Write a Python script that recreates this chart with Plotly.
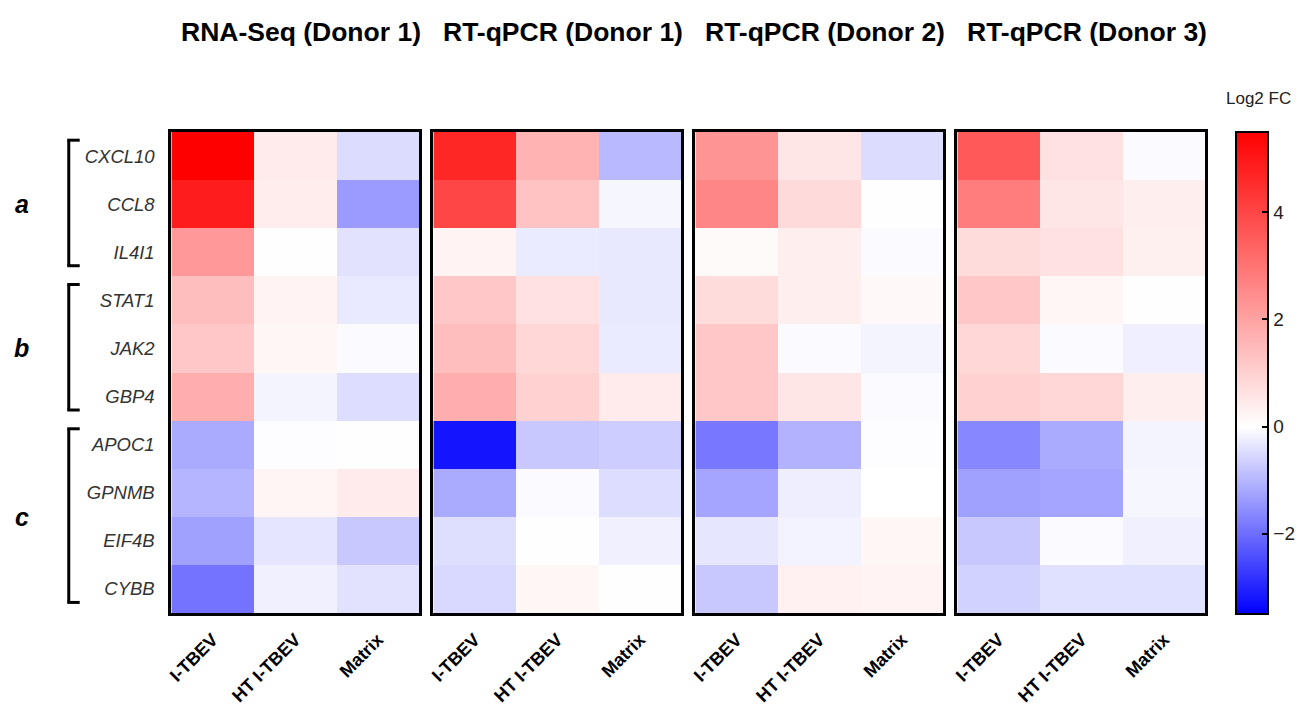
import plotly.graph_objects as go

W, H = 1309, 709

genes = ["CXCL10", "CCL8", "IL4I1", "STAT1", "JAK2", "GBP4", "APOC1", "GPNMB", "EIF4B", "CYBB"]
conditions = ["I-TBEV", "HT I-TBEV", "Matrix"]
panel_titles = ["RNA-Seq (Donor 1)", "RT-qPCR (Donor 1)", "RT-qPCR (Donor 2)", "RT-qPCR (Donor 3)"]
groups = ["a", "b", "c"]
group_rows = [(0, 2), (3, 5), (6, 9)]

rnaseq_d1 = [
    [5.50, 0.43, -0.48],
    [4.90, 0.40, -1.37],
    [2.20, 0.02, -0.40],
    [1.40, 0.26, -0.30],
    [1.20, 0.20, -0.05],
    [1.75, -0.15, -0.47],
    [-1.17, -0.03, 0.02],
    [-1.03, 0.22, 0.43],
    [-1.30, -0.36, -0.75],
    [-1.92, -0.20, -0.40],
]
qpcr_d1 = [
    [4.67, 1.63, -0.96],
    [4.00, 1.30, -0.12],
    [0.25, -0.27, -0.31],
    [1.20, 0.65, -0.31],
    [1.40, 0.87, -0.27],
    [1.74, 0.98, 0.43],
    [-3.22, -0.75, -0.69],
    [-1.17, -0.05, -0.47],
    [-0.45, 0.02, -0.20],
    [-0.52, 0.20, 0.02],
]
qpcr_d2 = [
    [2.30, 0.54, -0.48],
    [2.60, 0.80, 0.02],
    [0.10, 0.37, -0.05],
    [0.76, 0.37, 0.15],
    [1.20, -0.05, -0.15],
    [1.20, 0.54, -0.05],
    [-1.85, -1.06, -0.03],
    [-1.24, -0.23, 0.00],
    [-0.34, -0.17, 0.20],
    [-0.75, 0.30, 0.25],
]
qpcr_d3 = [
    [3.58, 0.65, -0.05],
    [2.80, 0.54, 0.37],
    [0.76, 0.65, 0.33],
    [1.20, 0.20, 0.02],
    [0.87, -0.05, -0.22],
    [0.98, 0.87, 0.37],
    [-1.65, -1.17, -0.15],
    [-1.30, -1.24, -0.12],
    [-0.75, -0.05, -0.20],
    [-0.62, -0.42, -0.42],
]
panels = [rnaseq_d1, qpcr_d1, qpcr_d2, qpcr_d3]

zmin, zmax = -3.5, 5.5
cbar_ticks = [-2, 0, 2, 4]

# layout geometry (pixels)
panel_left = [167, 430, 693, 956]
panel_w = 249
panel_top, panel_bot = 132, 613
cb_left, cb_w, cb_top, cb_bot = 1236, 32, 132, 614

def px_x(p):
    return p / W

def px_y(p):
    return 1 - p / H

mid = (0 - zmin) / (zmax - zmin)
colorscale = [[0, "rgb(0,0,255)"], [mid, "rgb(255,255,255)"], [1, "rgb(255,0,0)"]]

fig = go.Figure()
for i, z in enumerate(panels):
    sfx = "" if i == 0 else str(i + 1)
    fig.add_trace(go.Heatmap(
        z=z, x=conditions, y=genes,
        coloraxis="coloraxis",
        xaxis="x" + sfx, yaxis="y" + sfx,
        xgap=0, ygap=0,
    ))

axis_line = dict(showline=True, linewidth=3, linecolor="black", mirror=True,
                 showgrid=False, zeroline=False)
layout = dict(
    width=W, height=H,
    margin=dict(l=0, r=0, t=0, b=0),
    paper_bgcolor="white", plot_bgcolor="white",
    font=dict(family="Liberation Sans, Arial, sans-serif", color="#222"),
    showlegend=False,
)
for i in range(4):
    sfx = "" if i == 0 else str(i + 1)
    layout["xaxis" + sfx] = dict(
        domain=[px_x(panel_left[i]), px_x(panel_left[i] + panel_w)],
        anchor="y" + sfx, range=[-0.5, 2.5],
        tickangle=-45, ticks="", ticklabelstandoff=6,
        tickfont=dict(size=18, weight="bold", color="black"),
        **axis_line,
    )
    layout["yaxis" + sfx] = dict(
        domain=[px_y(panel_bot), px_y(panel_top)],
        anchor="x" + sfx, range=[9.5, -0.5],
        showticklabels=(i == 0), ticks="", ticklabelstandoff=10,
        tickfont=dict(size=18.5, style="italic", color="#333"),
        **axis_line,
    )

cb_len = (cb_bot - cb_top) / H
layout["coloraxis"] = dict(
    colorscale=colorscale, cmin=zmin, cmax=zmax,
    colorbar=dict(
        x=px_x(cb_left), xanchor="left", xpad=0, ypad=0,
        y=px_y((cb_top + cb_bot) / 2), yanchor="middle",
        len=cb_len, lenmode="fraction",
        thickness=cb_w, thicknessmode="pixels",
        outlinewidth=2, outlinecolor="black",
        tickvals=cbar_ticks, ticks="inside", ticklen=7, tickwidth=2, tickcolor="black",
        tickfont=dict(size=19, color="#222"),
    ),
)
fig.update_layout(**layout)

annotations = []
for i, t in enumerate(panel_titles):
    annotations.append(dict(
        text=t, xref="paper", yref="paper",
        x=px_x(panel_left[i] + panel_w / 2 + 6), y=px_y(32),
        showarrow=False, xanchor="center", yanchor="middle",
        font=dict(size=26.5, weight="bold", color="black"),
    ))
annotations.append(dict(
    text="Log2 FC", xref="paper", yref="paper",
    x=px_x(1258), y=px_y(98),
    showarrow=False, xanchor="center", yanchor="middle",
    font=dict(size=17, color="#222"),
))
shapes = []
bx, btick = 64, 75
for g, (r0, r1) in zip(groups, group_rows):
    annotations.append(dict(
        text=g, xref="paper", yref="y",
        x=px_x(17), y=(r0 + r1) / 2,
        showarrow=False, xanchor="center", yanchor="middle",
        font=dict(size=25, weight="bold", style="italic", color="black"),
    ))
    y0, y1 = r0 - 0.33, r1 + 0.28
    line = dict(color="black", width=3)
    shapes.append(dict(type="line", xref="paper", yref="y", x0=px_x(bx), x1=px_x(bx), y0=y0, y1=y1, line=line))
    shapes.append(dict(type="line", xref="paper", yref="y", x0=px_x(bx - 1.5), x1=px_x(btick), y0=y0, y1=y0, line=line))
    shapes.append(dict(type="line", xref="paper", yref="y", x0=px_x(bx - 1.5), x1=px_x(btick), y0=y1, y1=y1, line=line))

# tick marks on left edge of colorbar
for v in cbar_ticks:
    yy = px_y(cb_bot) + (v - zmin) / (zmax - zmin) * cb_len
    shapes.append(dict(type="line", xref="paper", yref="paper",
                       x0=px_x(cb_left), x1=px_x(cb_left + 7), y0=yy, y1=yy,
                       line=dict(color="black", width=2)))

fig.update_layout(annotations=annotations, shapes=shapes)
fig.write_html("out.html")
